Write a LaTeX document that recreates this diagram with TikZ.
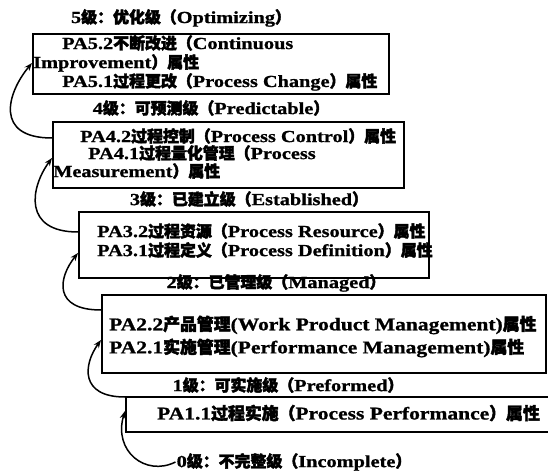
\documentclass[tikz,border=0pt]{standalone}
\usepackage{fontspec}
\setmainfont{Liberation Serif}[FakeStretch=1.2, BoldFeatures={FakeBold=1}]
\newfontfamily\cjk{Noto Sans CJK SC}[Scale=0.94, FakeBold=2.5]
\newcommand\zh[1]{{\cjk #1}}
\usetikzlibrary{arrows.meta}
\tikzset{
  box/.style={draw, line width=1.7bp, anchor=north west, inner sep=0pt},
  txt/.style={inner sep=0pt, font=\fontsize{17}{18}\selectfont\bfseries},
  bigtxt/.style={inner sep=0pt, font=\fontsize{18}{19}\selectfont\bfseries},
  line/.style={txt, anchor=west},
  bigline/.style={bigtxt, anchor=west},
  title/.style={txt, anchor=center},
  arr/.style={line width=1.5bp, -{Stealth[length=8bp,width=6bp]}},
}
\begin{document}
\begin{tikzpicture}[x=1bp,y=-1bp]
\useasboundingbox (0,0) rectangle (548,473);
% boxes
\node[box, minimum width=356bp, minimum height=60bp] (b5) at (32,33) {};
\node[box, minimum width=351bp, minimum height=66bp] (b4) at (52,121) {};
\node[box, minimum width=350bp, minimum height=66bp] (b3) at (78,211) {};
\node[box, minimum width=444bp, minimum height=78bp] (b2) at (101,294) {};
\node[box, minimum width=446bp, minimum height=35bp] (b1) at (125,396) {};
% titles
\node[title] (t5) at (181,18) {5\zh{级：优化级（}Optimizing\zh{）}};
\node[title] (t4) at (211,108) {4\zh{级：可预测级（}Predictable\zh{）}};
\node[title] (t3) at (249,199) {3\zh{级：已建立级（}Established\zh{）}};
\node[title] (t2) at (276,283) {2\zh{级：已管理级（}Managed\zh{）}};
\node[title] (t1) at (288,385) {1\zh{级：可实施级（}Preformed\zh{）}};
\node[title] (t0) at (294,462) {0\zh{级：不完整级（}Incomplete\zh{）}};
% box texts
\node[line] (l52) at (62,43) {PA5.2\zh{不断改进（}Continuous};
\node[line] (l52b) at (33,63) {Improvement\zh{）属性}};
\node[line] (l51) at (62,82) {PA5.1\zh{过程更改（}Process Change\zh{）属性}};
\node[line] (l42) at (80,136) {PA4.2\zh{过程控制（}Process Control\zh{）属性}};
\node[line] (l41) at (88,153) {PA4.1\zh{过程量化管理（}Process};
\node[line] (l41b) at (53,171) {Measurement\zh{）属性}};
\node[line] (l32) at (97,231) {PA3.2\zh{过程资源（}Process Resource\zh{）属性}};
\node[line] (l31) at (97,250) {PA3.1\zh{过程定义（}Process Definition\zh{）属性}};
\node[bigline] (l22) at (109,325) {PA2.2\zh{产品管理}(Work Product Management)\zh{属性}};
\node[bigline] (l21) at (109,348) {PA2.1\zh{实施管理}(Performance Management)\zh{属性}};
\node[bigline] (l11) at (157,413) {PA1.1\zh{过程实施（}Process Performance\zh{）属性}};
% arrows
\draw[arr] ([yshift=-17bp]b4.north west) .. controls +(-58,0) and +(-25,30) .. ([yshift=-30bp]b5.north west);
\draw[arr] ([yshift=-21bp]b3.north west) .. controls +(-55,0) and +(-22,30) .. ([yshift=-37bp]b4.north west);
\draw[arr] ([yshift=-16bp]b2.north west) .. controls +(-48,0) and +(-20,25) .. ([yshift=-42bp]b3.north west);
\draw[arr] ([yshift=-1bp]b1.north west) .. controls +(-45,0) and +(-18,25) .. ([yshift=-46bp]b2.north west);
\draw[arr] ([xshift=-1bp]t0.west) .. controls +(-30,15) and +(-12,40) .. ([yshift=-15bp]b1.north west);
\end{tikzpicture}
\end{document}
